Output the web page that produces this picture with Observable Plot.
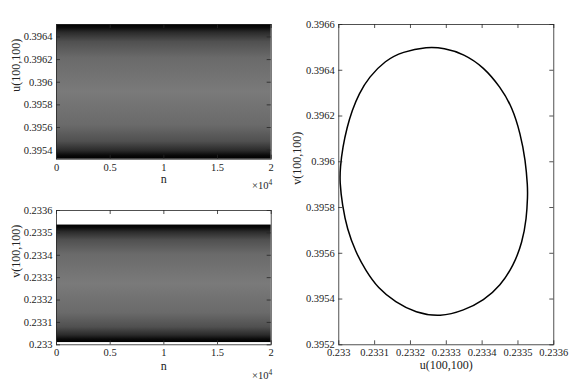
<!DOCTYPE html>
<html><head><meta charset="utf-8">
<script src="https://cdn.jsdelivr.net/npm/d3@7"></script>
<script src="https://cdn.jsdelivr.net/npm/@observablehq/plot@0.6"></script>
<style>
body{margin:0;background:#fff;}
#c{position:relative;width:577px;height:386px;overflow:hidden;font-family:"Liberation Serif","DejaVu Serif",serif;color:#262626;}
#c svg{position:absolute;}
#c svg, #c svg text{font-family:"Liberation Serif","DejaVu Serif",serif !important;}
.exp{position:absolute;font-size:10.5px;line-height:1;white-space:nowrap;}
.exp span{font-size:7.5px;vertical-align:4px;}
</style></head><body><div id="c"></div>
<script>
// ---- data ----
const nExtent = [0, 20000];
const nTicks = [0, 5000, 10000, 15000, 20000];
const uBand = [0.39532, 0.39651];           // range covered by u(100,100) over n
const uTicks = [0.3954, 0.3956, 0.3958, 0.396, 0.3962, 0.3964];
const vDomain = [0.233, 0.2336];
const vBand = [0.23301, 0.233535];          // range covered by v(100,100) over n
const vTicks = [0.233, 0.2331, 0.2332, 0.2333, 0.2334, 0.2335, 0.2336];
const phaseXDomain = [0.233, 0.2336];
const phaseXTicks = [0.233, 0.2331, 0.2332, 0.2333, 0.2334, 0.2335, 0.2336];
const phaseYDomain = [0.3952, 0.3966];
const phaseYTicks = [0.3952, 0.3954, 0.3956, 0.3958, 0.396, 0.3962, 0.3964, 0.3966];
const phaseU = [0.2332475, 0.233293, 0.233349, 0.233405, 0.233451, 0.233484, 0.233507, 0.233521, 0.233527, 0.233527, 0.233524, 0.233512, 0.233488, 0.233451, 0.233405, 0.233349, 0.233284, 0.233214, 0.233158, 0.233109, 0.233075, 0.233047, 0.233023, 0.233010, 0.2330025, 0.233004, 0.233011, 0.233023, 0.233037, 0.233056, 0.233084, 0.233130, 0.233177];
const phaseV = [0.3965025, 0.396497, 0.396472, 0.396413, 0.396326, 0.396239, 0.396122, 0.396006, 0.395889, 0.395853, 0.395751, 0.395648, 0.395547, 0.395459, 0.395394, 0.395350, 0.395322, 0.395340, 0.395386, 0.395448, 0.395525, 0.395605, 0.395707, 0.395809, 0.395912, 0.395976, 0.396064, 0.396151, 0.396224, 0.396297, 0.396370, 0.396443, 0.396481];

const FONT = "'Liberation Serif', 'DejaVu Serif', serif";
const AX = "#262626";
const fmt = d => String(+d.toFixed(5));

function gradientDefs(id) {
  return () => {
    const defs = d3.create("svg:defs");
    const g = defs.append("linearGradient").attr("id", id)
      .attr("x1", 0).attr("x2", 0).attr("y1", 0).attr("y2", 1);
    [[0, "#000"], [0.025, "#0a0a0a"], [0.06, "#2a2a2a"], [0.13, "#505050"], [0.25, "#6a6a6a"], [0.5, "#7a7a7a"],
     [0.75, "#6a6a6a"], [0.87, "#505050"], [0.94, "#2a2a2a"], [0.975, "#0a0a0a"], [1, "#000"]]
      .forEach(([o, c]) => g.append("stop").attr("offset", o).attr("stop-color", c));
    return defs.node();
  };
}

function panel({left, top, width, height, ml, mr, mt, mb, xDomain, yDomain, xTicks, yTicks, xFmt, yFmt, xLabel, yLabel, ylabDx, xlabDy, marks}) {
  const fw = width - ml - mr, fh = height - mt - mb;
  const svg = Plot.plot({
    width, height, marginLeft: ml, marginRight: mr, marginTop: mt, marginBottom: mb,
    style: {fontFamily: FONT, fontSize: "10.5px", color: AX, background: "transparent"},
    x: {domain: xDomain}, y: {domain: yDomain},
    marks: [
      ...marks,
      Plot.frame({stroke: AX, strokeWidth: 0.8}),
      Plot.tickX(xTicks, {x: d => d, insetTop: fh - 4, stroke: AX, strokeWidth: 0.8}),
      Plot.tickX(xTicks, {x: d => d, insetBottom: fh - 4, stroke: AX, strokeWidth: 0.8}),
      Plot.tickY(yTicks, {y: d => d, insetRight: fw - 4, stroke: AX, strokeWidth: 0.8}),
      Plot.tickY(yTicks, {y: d => d, insetLeft: fw - 4, stroke: AX, strokeWidth: 0.8}),
      Plot.axisX(xTicks, {tickSize: 0, tickPadding: 4, tickFormat: xFmt, label: null, fill: "#222"}),
      Plot.axisY(yTicks, {tickSize: 0, tickPadding: 4, tickFormat: yFmt, label: null, fill: "#222"}),
      Plot.text([xLabel], {text: d => d, frameAnchor: "bottom", dy: xlabDy, fontSize: 12, fill: "#222"}),
      Plot.text([yLabel], {text: d => d, frameAnchor: "left", dx: ylabDx, rotate: -90, fontSize: 12, fill: "#222"})
    ]
  });
  svg.style.left = left + "px";
  svg.style.top = top + "px";
  document.getElementById("c").appendChild(svg);
}

// top-left: u(100,100) vs n
panel({
  left: 0, top: 0, width: 290, height: 200, ml: 56, mr: 19.3, mt: 24, mb: 41.3,
  xDomain: nExtent, yDomain: uBand, xTicks: nTicks, yTicks: uTicks,
  xFmt: d => fmt(d / 1e4), yFmt: fmt, xLabel: "n", yLabel: "u(100,100)", ylabDx: -40, xlabDy: 24,
  marks: [
    gradientDefs("gu"),
    Plot.rect([uBand], {x1: () => nExtent[0], x2: () => nExtent[1], y1: d => d[0], y2: d => d[1], fill: "url(#gu)"})
  ]
});

// bottom-left: v(100,100) vs n
panel({
  left: 0, top: 190, width: 290, height: 196, ml: 56, mr: 19.3, mt: 20, mb: 41.7,
  xDomain: nExtent, yDomain: vDomain, xTicks: nTicks, yTicks: vTicks,
  xFmt: d => fmt(d / 1e4), yFmt: fmt, xLabel: "n", yLabel: "v(100,100)", ylabDx: -40, xlabDy: 25,
  marks: [
    gradientDefs("gv"),
    Plot.rect([vBand], {x1: () => nExtent[0], x2: () => nExtent[1], y1: d => d[0], y2: d => d[1], fill: "url(#gv)"})
  ]
});

// right: phase portrait
panel({
  left: 290, top: 0, width: 287, height: 386, ml: 48.3, mr: 23.7, mt: 24, mb: 41.7,
  xDomain: phaseXDomain, yDomain: phaseYDomain, xTicks: phaseXTicks, yTicks: phaseYTicks,
  xFmt: fmt, yFmt: fmt, xLabel: "u(100,100)", yLabel: "v(100,100)", ylabDx: -42, xlabDy: 24,
  marks: [
    Plot.line(d3.range(phaseU.length), {x: i => phaseU[i], y: i => phaseV[i], curve: "basis-closed", stroke: "#000", strokeWidth: 1.5})
  ]
});

// ×10^4 exponent labels
const c = document.getElementById("c");
[[179], [369]].forEach(([t]) => {
  const d = document.createElement("div");
  d.className = "exp";
  d.style.left = "252px";
  d.style.top = t + "px";
  d.innerHTML = "×10<span>4</span>";
  c.appendChild(d);
});
</script></body></html>
